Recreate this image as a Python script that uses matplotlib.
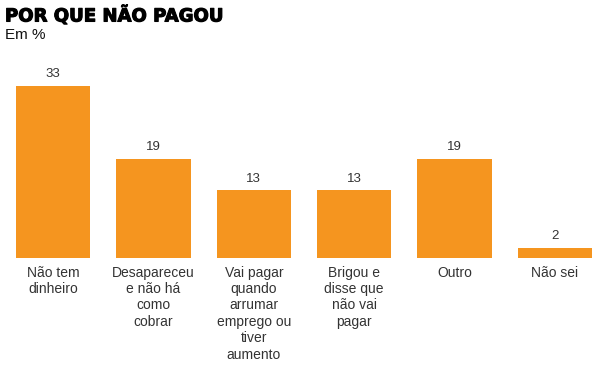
import matplotlib.pyplot as plt
import matplotlib.patheffects as pe

categories = ['Não tem\ndinheiro', 'Desapareceu\ne não há\ncomo\ncobrar',
              'Vai pagar\nquando\narrumar\nemprego ou\ntiver\naumento',
              'Brigou e\ndisse que\nnão vai\npagar', 'Outro', 'Não sei']
values = [33, 19, 13, 13, 19, 2]

W, H = 597, 368
fig = plt.figure(figsize=(W / 100, H / 100), dpi=100)
plt.rcParams['font.family'] = ['Liberation Sans', 'DejaVu Sans']

# axes placed in pixel terms: bars from x=16 to 592, baseline at y=258, top of 33 at y=86
ax = fig.add_axes([16 / W, 1 - 258 / H, 576 / W, 172 / H])
x = range(len(values))
bars = ax.bar(x, values, width=0.74, color='#F5951F')
ax.set_xlim(-0.37, len(values) - 1 + 0.37)
ax.set_ylim(0, 33)
ax.axis('off')

for b, v in zip(bars, values):
    ax.annotate(str(v), (b.get_x() + b.get_width() / 2, v), xytext=(0, 4),
                textcoords='offset points', ha='center', va='bottom',
                fontsize=9.5, color='#333333', annotation_clip=False)

for i, lab in enumerate(categories):
    ax.annotate(lab, (i, 0), xytext=(0, -5.5), textcoords='offset points',
                ha='center', va='top', fontsize=10, color='#333333',
                linespacing=1.22, annotation_clip=False)

# heavier title, close to a black weight
fig.text(5 / W, 1 - 6 / H, 'POR QUE NÃO PAGOU', fontsize=13, fontweight='bold',
         family='DejaVu Sans', ha='left', va='top', color='black',
         path_effects=[pe.withStroke(linewidth=0.8, foreground='black')])
fig.text(5 / W, 1 - 28 / H, 'Em %', fontsize=11, ha='left', va='top', color='#111111')

fig.savefig('out.png', dpi=100)
